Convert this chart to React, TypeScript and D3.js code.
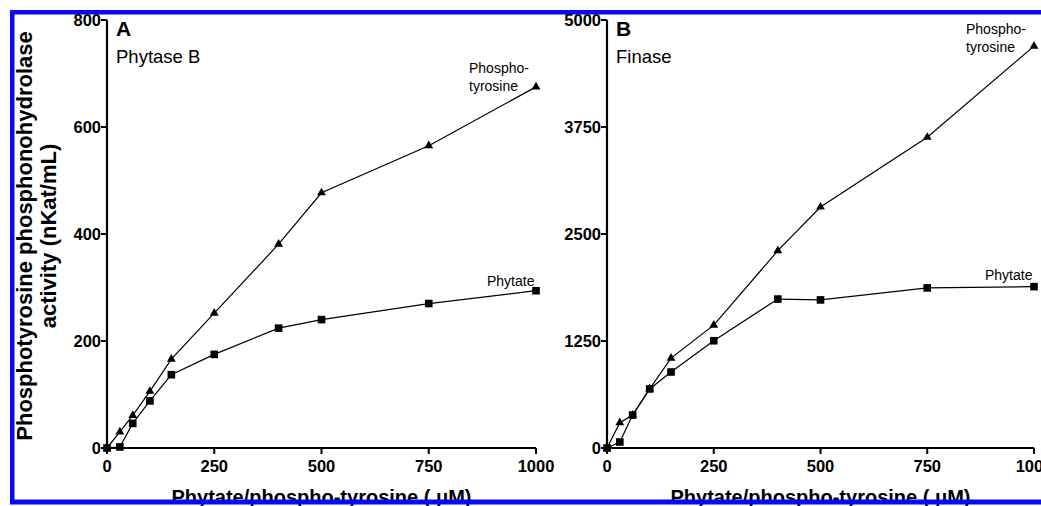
import React from 'react';
import * as d3 from 'd3';

const concentrations = [0, 30, 60, 100, 150, 250, 400, 500, 750, 1000];

// Panel A: Phytase B
const phytaseTyrosine = [0, 30, 61, 106, 166, 252, 381, 477, 565, 675];
const phytasePhytate = [0, 2, 46, 88, 137, 175, 224, 240, 270, 294];

// Panel B: Finase
const finaseTyrosine = [0, 296, 385, 690, 1050, 1435, 2305, 2815, 3630, 4695];
const finasePhytate = [0, 70, 385, 690, 888, 1253, 1740, 1730, 1870, 1885];

const xTicks = [0, 250, 500, 750, 1000];
const yTicksA = [0, 200, 400, 600, 800];
const yTicksB = [0, 1250, 2500, 3750, 5000];

const W = 1041;
const H = 506;
const FONT = '"Liberation Sans", Arial, Helvetica, sans-serif';

interface PanelProps {
  x0: number;
  x1: number;
  yMax: number;
  yTicks: number[];
  tyrosine: number[];
  phytate: number[];
  letter: string;
  name: string;
  tyrLabel: [number, number];
  phyLabel: [number, number];
}

const Panel: React.FC<PanelProps> = ({ x0, x1, yMax, yTicks, tyrosine, phytate, letter, name, tyrLabel, phyLabel }) => {
  const x = d3.scaleLinear().domain([0, 1000]).range([x0, x1]);
  const y = d3.scaleLinear().domain([0, yMax]).range([448, 20]);
  const line = d3.line<number>().x((_, i) => x(concentrations[i])).y(d => y(d));
  const tri = d3.symbol().type(d3.symbolTriangle).size(34)();
  const sq = d3.symbol().type(d3.symbolSquare).size(58)();

  return (
    <g fontFamily={FONT}>
      {/* axes */}
      <line x1={x0} x2={x0} y1={y(yMax)} y2={y(0)} stroke="#000" strokeWidth={2.2} />
      <line x1={x0} x2={x1} y1={y(0)} y2={y(0)} stroke="#000" strokeWidth={2.2} />
      {yTicks.map(t => (
        <g key={'y' + t}>
          <line x1={x0 - 6} x2={x0} y1={y(t)} y2={y(t)} stroke="#000" strokeWidth={2} />
          <text x={x0 - 6} y={y(t)} dy="0.36em" textAnchor="end" fontSize={16.5} fontWeight="bold">{t}</text>
        </g>
      ))}
      {xTicks.map(t => (
        <g key={'x' + t}>
          <line x1={x(t)} x2={x(t)} y1={y(0)} y2={y(0) + 6} stroke="#000" strokeWidth={2} />
          <text x={x(t)} y={y(0) + 24} textAnchor="middle" fontSize={16.5} fontWeight="bold">{t}</text>
        </g>
      ))}
      <text x={(x0 + x1) / 2} y={504} textAnchor="middle" fontSize={20} fontWeight="bold">Phytate/phospho-tyrosine ( μM)</text>

      {/* series */}
      <path d={line(tyrosine) || ''} fill="none" stroke="#000" strokeWidth={1.2} />
      <path d={line(phytate) || ''} fill="none" stroke="#000" strokeWidth={1.2} />
      {tyrosine.map((v, i) => (
        <path key={'t' + i} d={tri || ''} transform={`translate(${x(concentrations[i])},${y(v)})`} fill="#000" />
      ))}
      {phytate.map((v, i) => (
        <path key={'p' + i} d={sq || ''} transform={`translate(${x(concentrations[i])},${y(v)})`} fill="#000" />
      ))}

      {/* labels */}
      <text x={x0 + 9} y={36} fontSize={21} fontWeight="bold">{letter}</text>
      <text x={x0 + 9} y={63} fontSize={18.5}>{name}</text>
      <text x={tyrLabel[0]} y={tyrLabel[1]} fontSize={14}>Phospho-</text>
      <text x={tyrLabel[0]} y={tyrLabel[1] + 18} fontSize={14}>tyrosine</text>
      <text x={phyLabel[0]} y={phyLabel[1]} fontSize={14}>Phytate</text>
    </g>
  );
};

export default function App() {
  return (
    <svg width={W} height={H} style={{ position: 'absolute', left: 0, top: 0, background: '#fff' }}>
      <rect width={W} height={H} fill="#fff" />
      <text
        transform="translate(32,236) rotate(-90)"
        textAnchor="middle"
        fontFamily={FONT}
        fontSize={22}
        fontWeight="bold"
      >
        <tspan x={0} dy={0}>Phosphotyrosine phosphonohydrolase</tspan>
        <tspan x={0} dy={24}>activity (nKat/mL)</tspan>
      </text>
      <Panel
        x0={107}
        x1={536}
        yMax={800}
        yTicks={yTicksA}
        tyrosine={phytaseTyrosine}
        phytate={phytasePhytate}
        letter="A"
        name="Phytase B"
        tyrLabel={[469, 73]}
        phyLabel={[487, 286]}
      />
      <Panel
        x0={607}
        x1={1034}
        yMax={5000}
        yTicks={yTicksB}
        tyrosine={finaseTyrosine}
        phytate={finasePhytate}
        letter="B"
        name="Finase"
        tyrLabel={[966, 34]}
        phyLabel={[985, 280]}
      />
      {/* blue frame */}
      <rect x={10} y={10} width={W - 10} height={4.5} fill="#0a0af0" />
      <rect x={10} y={10} width={4.5} height={494} fill="#0a0af0" />
      <rect x={10} y={499.5} width={W - 10} height={5} fill="#0a0af0" />
    </svg>
  );
}
